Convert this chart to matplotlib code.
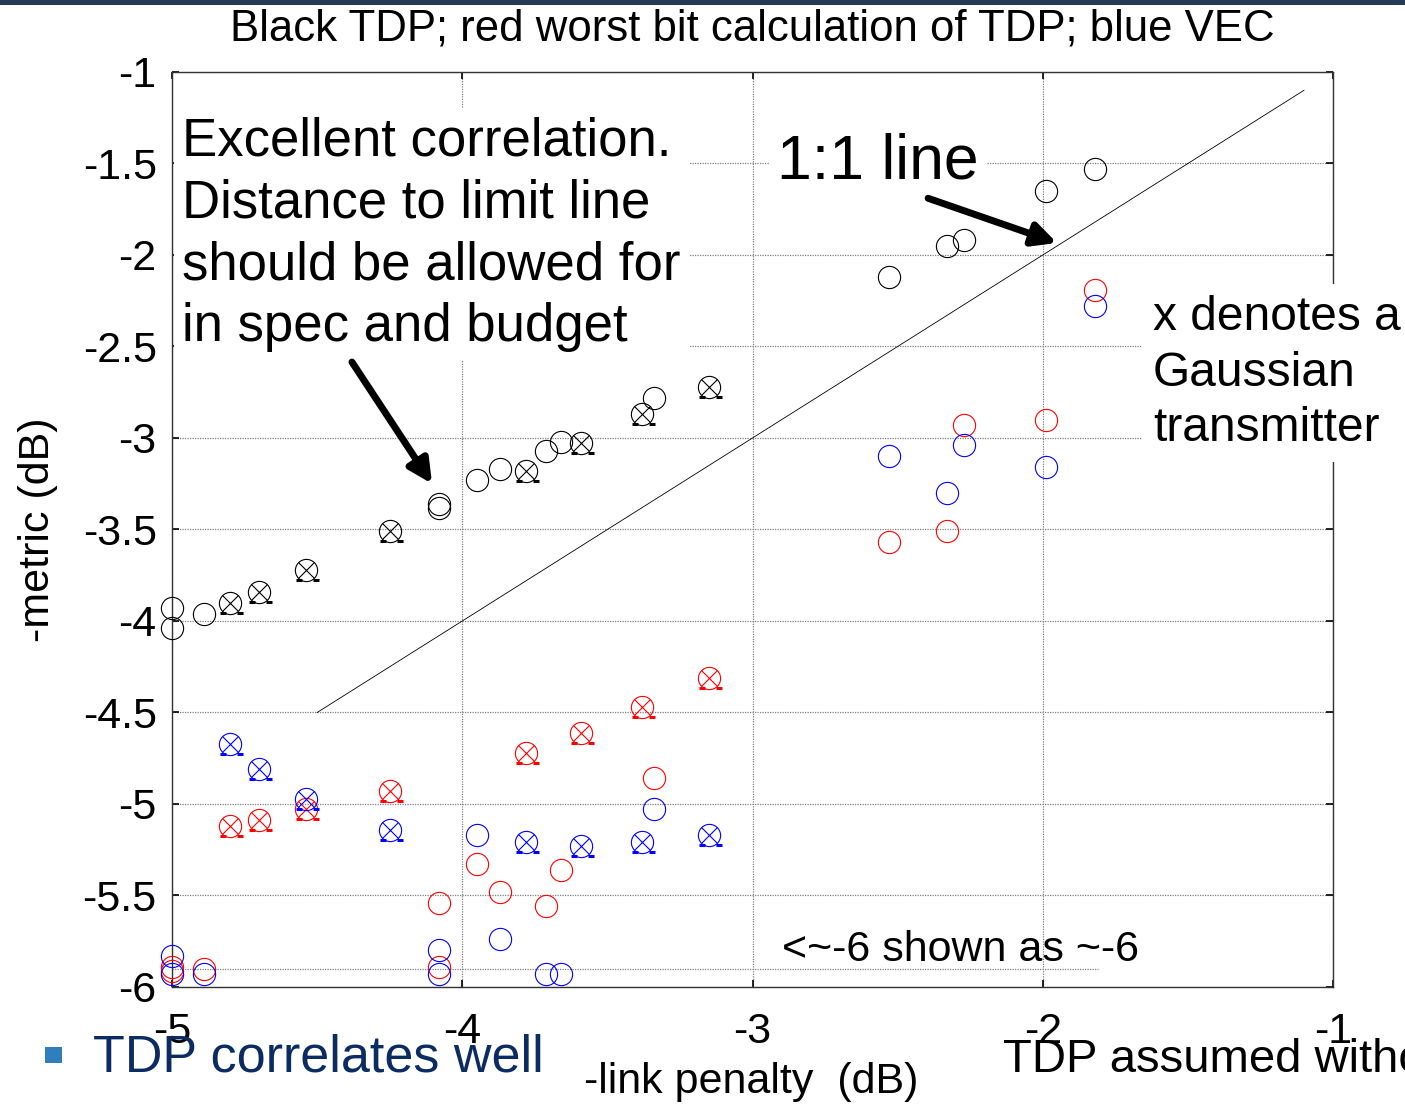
import numpy as np
import matplotlib
matplotlib.use("Agg")
import matplotlib.pyplot as plt
from matplotlib import transforms
from matplotlib.patches import Rectangle

plt.rcParams["font.family"] = ["Liberation Sans", "DejaVu Sans"]

# link penalty (x) shared by all three series
link_pen = [-5.00, -5.00, -4.89, -4.80, -4.70, -4.54, -4.25, -4.08, -4.08, -3.95, -3.87, -3.78,
            -3.71, -3.66, -3.59, -3.38, -3.34, -3.15, -2.53, -2.33, -2.27, -1.99, -1.82]
tdp = [-3.93, -4.04, -3.96, -3.90, -3.84, -3.72, -3.51, -3.36, -3.38, -3.23, -3.17, -3.18,
       -3.07, -3.02, -3.03, -2.87, -2.78, -2.72, -2.12, -1.95, -1.92, -1.65, -1.53]
tdp_worst = [-5.89, -5.91, -5.90, -5.12, -5.09, -5.03, -4.93, -5.54, -5.89, -5.33, -5.48, -4.72,
             -5.56, -5.36, -4.61, -4.47, -4.86, -4.31, -3.57, -3.51, -2.93, -2.90, -2.19]
vec = [-5.83, -5.93, -5.93, -4.67, -4.81, -4.97, -5.14, -5.80, -5.93, -5.17, -5.74, -5.21,
       -5.93, -5.93, -5.23, -5.21, -5.03, -5.17, -3.10, -3.30, -3.04, -3.16, -2.28]
gaussian = [0, 0, 0, 1, 1, 1, 1, 0, 0, 0, 0, 1, 0, 0, 1, 1, 0, 1, 0, 0, 0, 0, 0]

one_to_one = [-4.5, -1.1]
floor_line_x = [-5.0, -1.81]
floor_line_y = -5.9

xticks = [-5, -4, -3, -2, -1]
yticks = [-1, -1.5, -2, -2.5, -3, -3.5, -4, -4.5, -5, -5.5, -6]

fig = plt.figure(figsize=(14.05, 11.07), dpi=100)
ax = fig.add_axes([172/1405, 1-987/1107, (1333-172)/1405, (987-72)/1107])

x = np.array(link_pen)
g = np.array(gaussian, bool)
for ys, c in [(tdp, "black"), (tdp_worst, "#ff0000"), (vec, "#0000ff")]:
    ys = np.array(ys)
    ax.plot(x, ys, "o", ms=16, mfc="none", mec=c, mew=0.8, clip_on=False, zorder=4)
    ax.plot(x[g], ys[g], "x", ms=11, mec=c, mew=0.8, zorder=4)
    # little dashes under the gaussian markers
    for dx in (-7, 10):
        tr = transforms.offset_copy(ax.transData, fig=fig, x=dx*0.72, y=-10*0.72, units="points")
        ax.plot(x[g], ys[g], "_", ms=4, mec=c, mew=2.2, transform=tr, zorder=4)

ax.plot(one_to_one, one_to_one, color="black", lw=0.6, zorder=3)
ax.plot(floor_line_x, [floor_line_y]*2, color="#808080", lw=0.9, ls=(0, (1, 1)), zorder=2)

ax.set_xlim(-5, -1)
ax.set_ylim(-6, -1)
ax.set_xticks(xticks)
ax.set_yticks(yticks)
ax.set_xticklabels([str(v) for v in xticks])
ax.set_yticklabels([("%g" % v) for v in yticks])
ax.tick_params(direction="in", length=5, width=1.2, top=True, right=True, labelsize=31)
ax.tick_params(axis="y", pad=11)
ax.tick_params(axis="x", pad=18)
ax.grid(True, color="#808080", lw=0.9, ls=(0, (1, 1)))
ax.set_axisbelow(True)
for s in ax.spines.values():
    s.set_linewidth(1.0)
    s.set_color("#333333")

ax.set_xlabel("-link penalty  (dB)", fontsize=31)
ax.xaxis.set_label_coords(0.4987, -0.082)
ax.set_ylabel("-metric (dB)", fontsize=31)
ax.yaxis.set_label_coords(-0.098, 0.50)
ax.set_title("Black TDP; red worst bit calculation of TDP; blue VEC", fontsize=31.5, y=1.034, pad=0)

box = dict(facecolor="white", edgecolor="none", pad=6)
ax.text(-4.965, -1.245, "Excellent correlation.\nDistance to limit line\nshould be allowed for\nin spec and budget",
        fontsize=38, va="top", ha="left", linespacing=1.30, bbox=box, zorder=5)
ax.text(-2.915, -1.49, "1:1 line", fontsize=45, va="center", ha="left", bbox=box, zorder=5)
ax.text(-1.62, -2.645, "x denotes a\nGaussian\ntransmitter", fontsize=34.5, va="center", ha="left",
        linespacing=1.31, bbox=dict(facecolor="white", edgecolor="none", pad=8), zorder=6, clip_on=False)
ax.text(-2.90, -5.80, "<~-6 shown as ~-6", fontsize=31, va="center", ha="left", zorder=5)

arrow = dict(arrowstyle="-|>,head_length=1.4,head_width=0.7", color="black", lw=5, shrinkA=0, shrinkB=0)
ax.annotate("", xy=(-4.104, -3.25), xytext=(-4.38, -2.585), arrowprops=arrow, zorder=6)
ax.annotate("", xy=(-1.951, -1.934), xytext=(-2.395, -1.69), arrowprops=arrow, zorder=6)

# slide overlays
fig.patches.append(Rectangle((0, 1-5/1107), 1, 5/1107, transform=fig.transFigure,
                             facecolor="#243a55", edgecolor="none"))
fig.patches.append(Rectangle((45/1405, 1-1063/1107), 17/1405, 16/1107, transform=fig.transFigure,
                             facecolor="#2f7fbf", edgecolor="none"))
fig.text(93/1405, 1-1058/1107, "TDP correlates well", fontsize=37.5, color="#0b2b63", va="center", ha="left")
fig.text(1003/1405, 1-1060/1107, "TDP assumed without", fontsize=34, color="black", va="center", ha="left")

fig.savefig("out.png", dpi=100)
